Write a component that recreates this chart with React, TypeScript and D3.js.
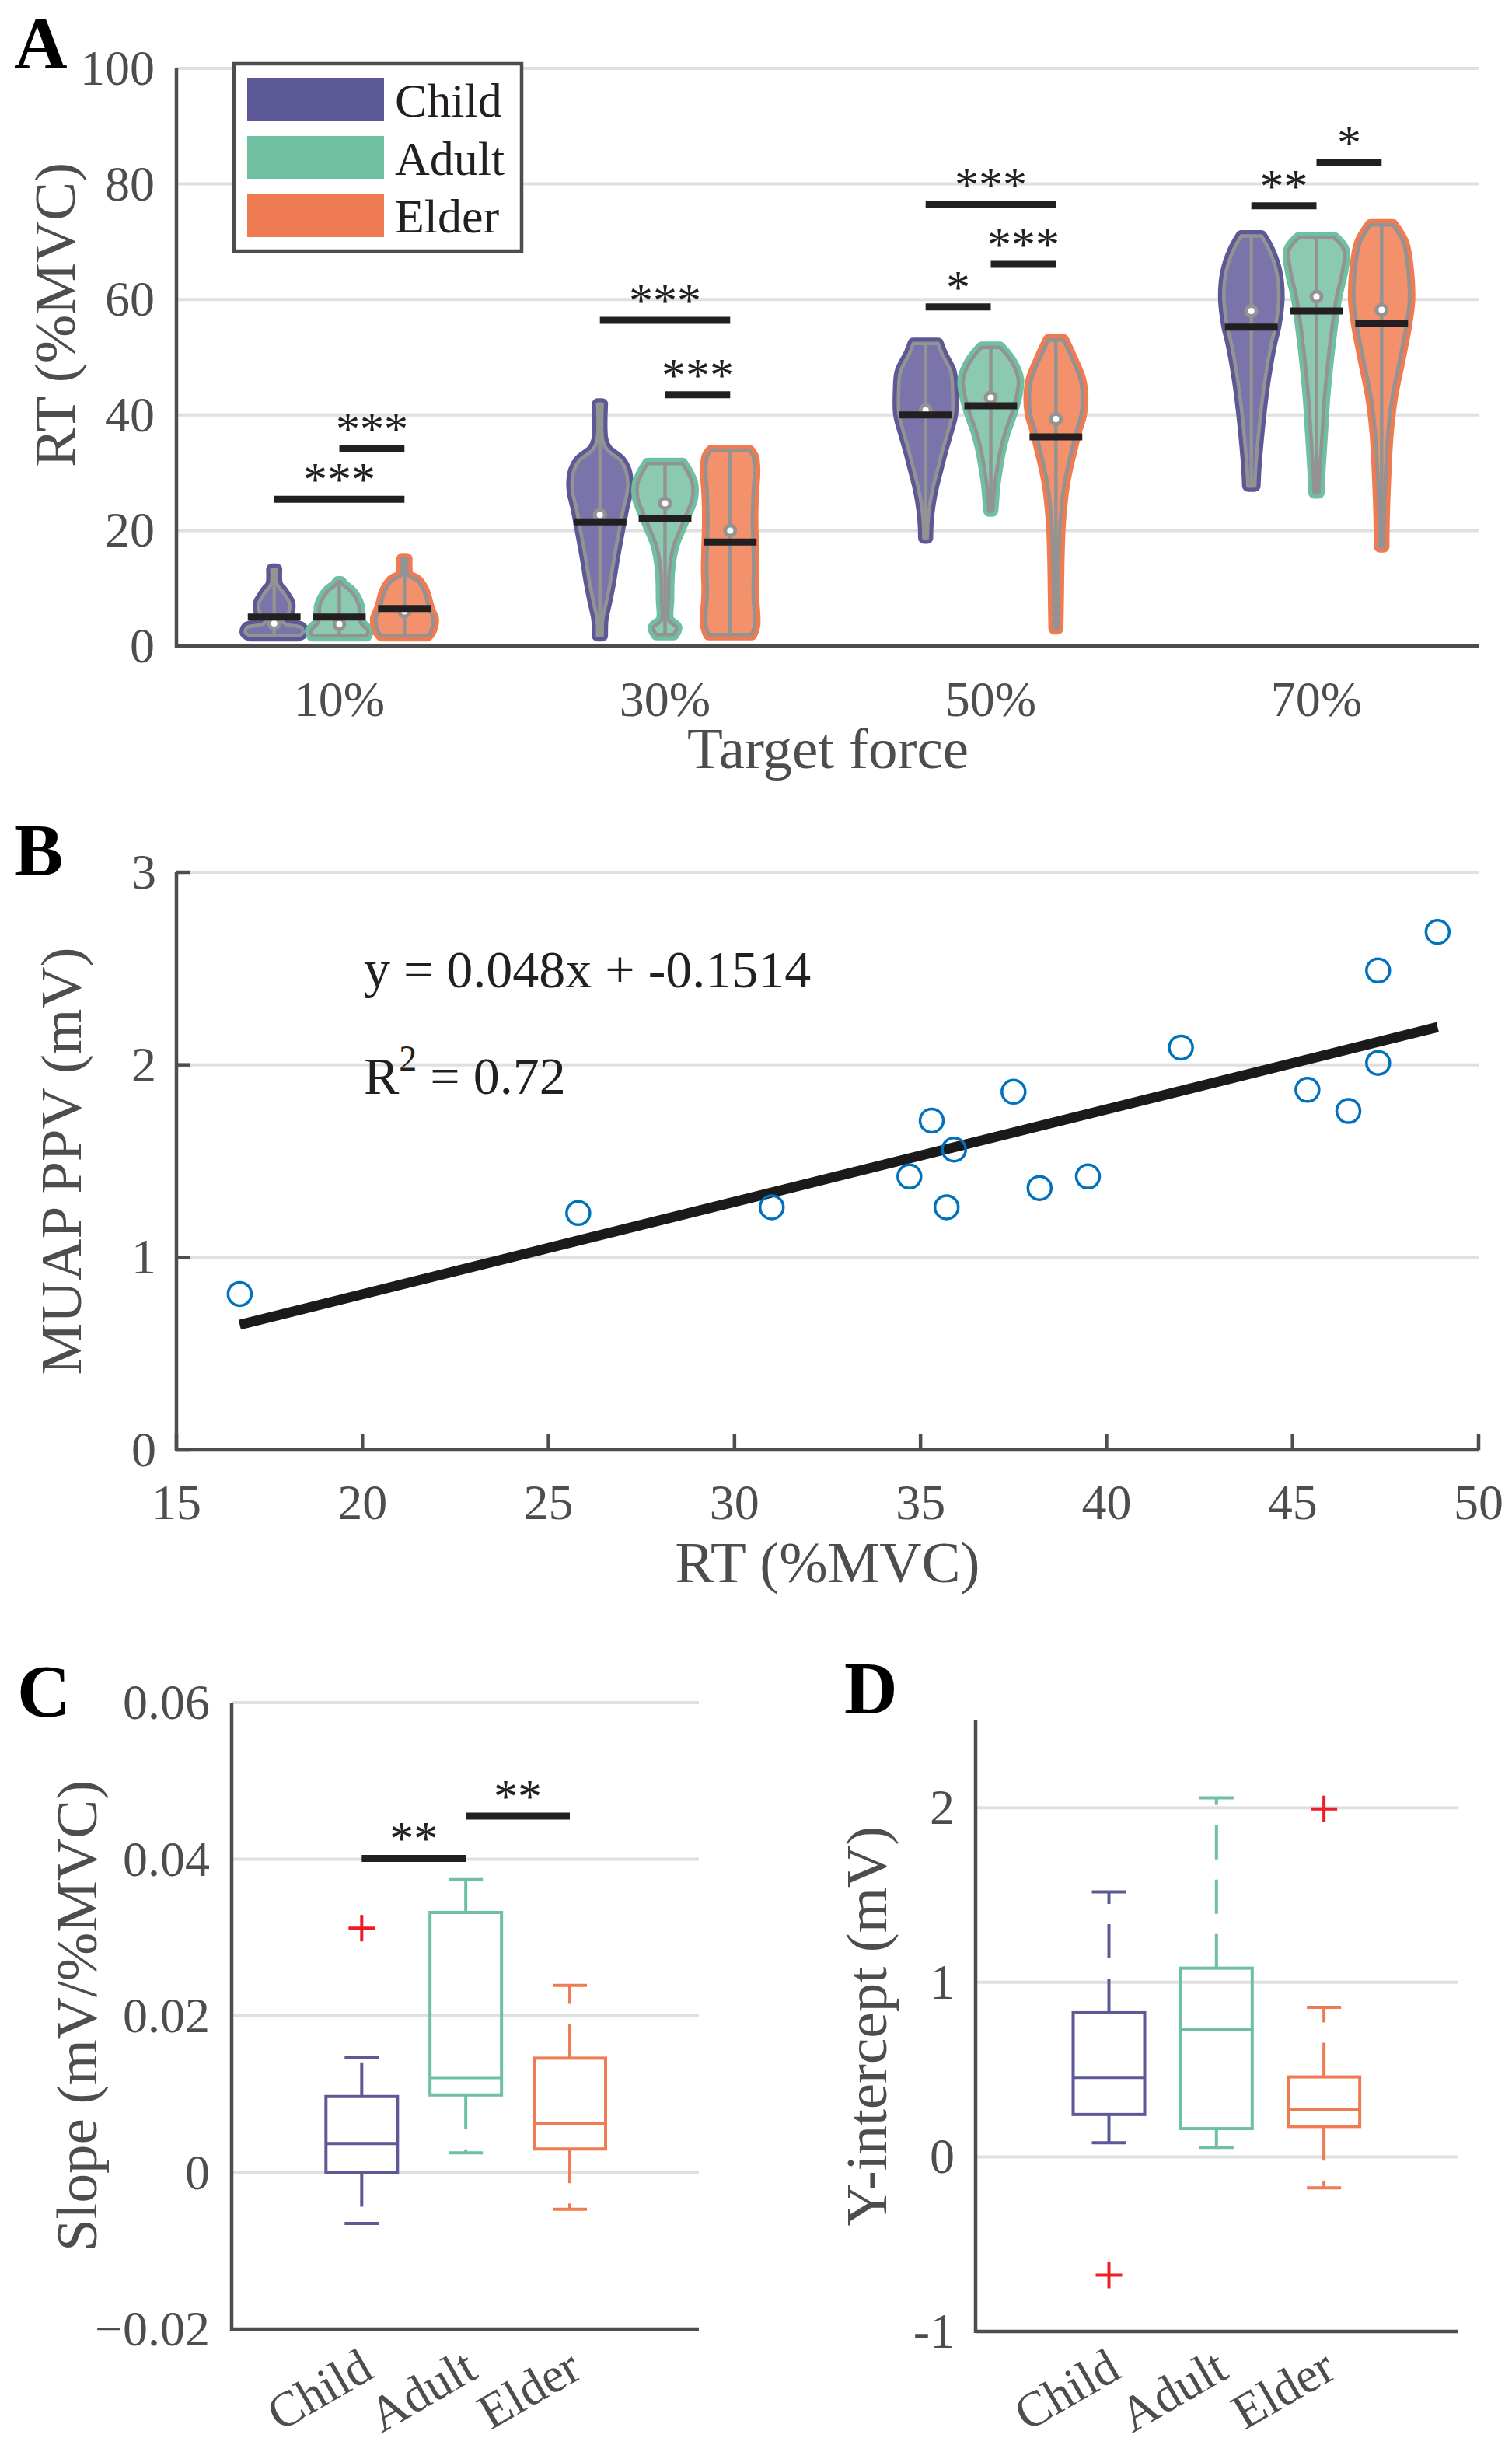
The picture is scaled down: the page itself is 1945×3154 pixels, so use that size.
import { useEffect, useRef } from 'react';
import * as d3 from 'd3';

const W = 1945, H = 3154;
const FONT = "'Liberation Serif', 'Times New Roman', serif";
const INK = '#231f20';
const AXIS = '#4d4d4d';
const GRID = '#e0e0e2';
const VGRAY = '#939393';

const groups = ['Child', 'Adult', 'Elder'];
const groupColors = ['#5d5896', '#6fbfa1', '#ee7b51'];
const groupFills = ['#7b74ab', '#8bcab1', '#f2916b'];

// ---- Panel A: violin profiles, [RT value, relative half-width], bottom -> top
const forces = ['10%', '30%', '50%', '70%'];
const child10: [number, number][] = [[1.8, 0.85], [2.3, 1.0], [3.2, 0.95], [3.8, 0.4], [4.4, 0.3], [5.2, 0.45], [6.2, 0.53], [7.5, 0.53], [8.5, 0.42], [9.4, 0.3], [10.5, 0.12], [11.3, 0.08], [13.3, 0.08]];
const adult10: [number, number][] = [[1.8, 0.95], [2.6, 1.0], [3.4, 0.85], [4.2, 0.72], [5.5, 0.7], [7.0, 0.68], [8.5, 0.55], [9.5, 0.4], [10.5, 0.15], [11.1, 0.05]];
const elder10: [number, number][] = [[1.8, 0.8], [2.4, 0.9], [3.5, 0.98], [4.7, 1.0], [6.0, 0.9], [7.5, 0.8], [9.0, 0.72], [10.3, 0.6], [11.3, 0.45], [12.3, 0.12], [13.5, 0.08], [15.1, 0.08]];
const child30: [number, number][] = [[1.8, 0.08], [4.7, 0.1], [7.5, 0.22], [10.7, 0.35], [15.3, 0.5], [19.9, 0.67], [23.8, 0.82], [26.6, 0.95], [28.4, 0.97], [30.5, 0.9], [32.1, 0.72], [34.0, 0.25], [35.6, 0.1], [41.9, 0.08]];
const adult30: [number, number][] = [[2.0, 0.3], [3.2, 0.4], [4.5, 0.12], [8.0, 0.12], [13.1, 0.15], [17.4, 0.3], [20.5, 0.55], [22.6, 0.72], [25.6, 0.95], [28.2, 0.95], [30.4, 0.75], [31.6, 0.6]];
const elder30: [number, number][] = [[2.0, 0.75], [3.6, 0.85], [9.3, 0.8], [13.5, 0.82], [17.4, 0.8], [22.0, 0.78], [26.2, 0.8], [30.4, 0.85], [32.8, 0.8], [33.8, 0.67]];
const child50: [number, number][] = [[18.7, 0.06], [21.5, 0.08], [24.6, 0.15], [27.7, 0.27], [30.8, 0.43], [33.9, 0.59], [37.0, 0.77], [40.1, 0.93], [44.4, 0.94], [47.5, 0.88], [50.6, 0.57], [52.4, 0.43]];
const adult50: [number, number][] = [[23.4, 0.06], [24.5, 0.08], [27.6, 0.13], [30.7, 0.22], [33.8, 0.33], [36.9, 0.49], [40.0, 0.71], [43.1, 0.89], [46.2, 0.96], [49.3, 0.71], [51.7, 0.32]];
const elder50: [number, number][] = [[3.0, 0.06], [9.1, 0.08], [15.3, 0.1], [21.5, 0.15], [27.7, 0.28], [30.8, 0.4], [33.9, 0.55], [37.0, 0.7], [40.0, 0.88], [43.1, 0.93], [46.2, 0.85], [49.9, 0.55], [53.0, 0.26]];
const child70: [number, number][] = [[27.7, 0.12], [30.8, 0.15], [33.9, 0.2], [40.0, 0.32], [46.2, 0.48], [52.4, 0.7], [55.5, 0.85], [60.5, 0.96], [64.8, 0.88], [68.5, 0.63], [71.0, 0.35]];
const adult70: [number, number][] = [[26.5, 0.08], [30.8, 0.12], [36.9, 0.2], [43.1, 0.28], [49.3, 0.4], [55.5, 0.55], [60.5, 0.7], [64.8, 0.9], [68.5, 0.96], [70.7, 0.61]];
const elder70: [number, number][] = [[17.2, 0.07], [21.5, 0.08], [27.7, 0.12], [36.9, 0.22], [43.1, 0.37], [49.3, 0.62], [55.5, 0.86], [59.9, 0.97], [64.8, 0.93], [69.8, 0.76], [72.9, 0.39]];

const childMedian = [3.9, 22.7, 40.8, 58.0];
const adultMedian = [3.8, 24.7, 43.0, 60.5];
const elderMedian = [6.0, 20.0, 39.3, 58.2];
const childMean = [5.0, 21.5, 40.0, 55.2];
const adultMean = [5.0, 22.0, 41.6, 58.0];
const elderMean = [6.5, 18.0, 36.2, 55.9];

// [force index, group a, group b, bar height, stars]
const sigA: [number, number, number, number, string][] = [
  [0, 1, 2, 34.2, '***'], [0, 0, 2, 25.4, '***'],
  [1, 0, 2, 56.4, '***'], [1, 1, 2, 43.5, '***'],
  [2, 0, 2, 76.4, '***'], [2, 1, 2, 66.1, '***'], [2, 0, 1, 58.7, '*'],
  [3, 0, 1, 76.2, '**'], [3, 1, 2, 83.7, '*'],
];
const ticksA = [0, 20, 40, 60, 80, 100];

// ---- Panel B
const rtValues = [16.7, 25.8, 31.0, 34.7, 35.3, 35.9, 35.7, 37.5, 38.2, 39.5, 42.0, 45.4, 46.5, 47.3, 47.3, 48.9];
const ppvValues = [0.81, 1.23, 1.26, 1.42, 1.71, 1.56, 1.26, 1.86, 1.36, 1.42, 2.09, 1.87, 1.76, 2.49, 2.01, 2.69];
const fitSlope = 0.048, fitIntercept = -0.1514;
const ticksBx = [15, 20, 25, 30, 35, 40, 45, 50];
const ticksBy = [0, 1, 2, 3];

// ---- Panel C (slope) box stats
const slopeLow = [-0.0065, 0.0025, -0.0047];
const slopeQ1 = [0.0, 0.0099, 0.0030];
const slopeMed = [0.0037, 0.0121, 0.0063];
const slopeQ3 = [0.0097, 0.0332, 0.0146];
const slopeHigh = [0.0147, 0.0374, 0.0239];
const slopeOutliers: [number, number][] = [[0, 0.0312]];
const sigC: [number, number, number, string][] = [[0, 1, 0.0401, '**'], [1, 2, 0.0455, '**']];
const ticksC = [-0.02, 0, 0.02, 0.04, 0.06];
const tickLabelsC = ['\u22120.02', '0', '0.02', '0.04', '0.06'];

// ---- Panel D (y-intercept) box stats
const interLow = [0.081, 0.054, -0.177];
const interQ1 = [0.243, 0.162, 0.174];
const interMed = [0.455, 0.731, 0.27];
const interQ3 = [0.826, 1.081, 0.458];
const interHigh = [1.518, 2.057, 0.857];
const interOutliers: [number, number][] = [[0, -0.677], [2, 1.994]];
const ticksD = [-1, 0, 1, 2];
const tickLabelsD = ['-1', '0', '1', '2'];

type Sel = d3.Selection<SVGGElement, unknown, null, undefined>;

function txt(g: Sel, x: number, y: number, s: string, size: number,
  o: { anchor?: string; fill?: string; weight?: string; rot?: number } = {}) {
  const t = g.append('text')
    .attr('x', 0).attr('y', 0)
    .attr('transform', `translate(${x},${y})` + (o.rot ? ` rotate(${o.rot})` : ''))
    .attr('font-family', FONT).attr('font-size', size)
    .attr('text-anchor', o.anchor || 'start')
    .attr('fill', o.fill || AXIS)
    .attr('font-weight', o.weight || 'normal')
    .text(s);
  return t;
}

function line(g: Sel, x1: number, y1: number, x2: number, y2: number, stroke: string, w: number) {
  return g.append('line').attr('x1', x1).attr('y1', y1).attr('x2', x2).attr('y2', y2)
    .attr('stroke', stroke).attr('stroke-width', w);
}

function drawA(g: Sel) {
  const x = d3.scaleLinear().domain([0.5, 4.5]).range([227, 1903]);
  const y = d3.scaleLinear().domain([0, 100]).range([831, 88]);
  const offset = 0.2, half = 0.088, meanHalf = 0.081;

  ticksA.filter(v => v > 0).forEach(v => line(g, x(0.5), y(v), x(4.5), y(v), GRID, 4));

  const profiles = [[child10, adult10, elder10], [child30, adult30, elder30], [child50, adult50, elder50], [child70, adult70, elder70]];
  const medians = [childMedian, adultMedian, elderMedian];
  const means = [childMean, adultMean, elderMean];

  profiles.forEach((row, fi) => {
    row.forEach((prof, gi) => {
      const c = fi + 1 + (gi - 1) * offset;
      const area = d3.area<[number, number]>()
        .y(d => y(d[0]))
        .x0(d => x(c - d[1] * half))
        .x1(d => x(c + d[1] * half))
        .curve(d3.curveCatmullRom.alpha(0.5));
      // raw-data halo
      g.append('path').attr('d', area(prof)).attr('fill', groupColors[gi])
        .attr('stroke', groupColors[gi]).attr('stroke-width', 15).attr('stroke-linejoin', 'round');
      g.append('path').attr('d', area(prof)).attr('fill', groupFills[gi])
        .attr('stroke', VGRAY).attr('stroke-width', 4.5).attr('stroke-linejoin', 'round');
      line(g, x(c), y(prof[0][0]), x(c), y(prof[prof.length - 1][0]), VGRAY, 4.5);
      g.append('circle').attr('cx', x(c)).attr('cy', y(medians[gi][fi])).attr('r', 6.5)
        .attr('fill', '#fff').attr('stroke', VGRAY).attr('stroke-width', 5);
    });
  });
  profiles.forEach((row, fi) => {
    row.forEach((_, gi) => {
      const c = fi + 1 + (gi - 1) * offset;
      line(g, x(c - meanHalf), y(means[gi][fi]), x(c + meanHalf), y(means[gi][fi]), INK, 9);
    });
  });

  sigA.forEach(([fi, a, b, v, s]) => {
    const ca = fi + 1 + (a - 1) * offset, cb = fi + 1 + (b - 1) * offset;
    line(g, x(ca), y(v), x(cb), y(v), INK, 9);
    txt(g, (x(ca) + x(cb)) / 2, y(v) - 5, s, 62, { anchor: 'middle', fill: INK });
  });

  line(g, x(0.5), y(0), x(4.5), y(0), AXIS, 4.5);
  line(g, x(0.5), y(0) + 2, x(0.5), y(100), AXIS, 4.5);
  ticksA.forEach(v => txt(g, 199, y(v) + 21, String(v), 64, { anchor: 'end' }));
  forces.forEach((f, i) => txt(g, x(i + 1), 921, f, 64, { anchor: 'middle' }));
  txt(g, (x(0.5) + x(4.5)) / 2, 988, 'Target force', 75, { anchor: 'middle' });
  txt(g, 96, 405, 'RT (%MVC)', 75, { anchor: 'middle', rot: -90 });
  txt(g, 18, 88, 'A', 95, { fill: '#000', weight: 'bold' });

  // legend
  g.append('rect').attr('x', 301).attr('y', 82).attr('width', 370).attr('height', 241)
    .attr('fill', '#fff').attr('stroke', AXIS).attr('stroke-width', 4.5);
  groups.forEach((name, i) => {
    g.append('rect').attr('x', 318).attr('y', 100 + i * 75).attr('width', 176).attr('height', 55)
      .attr('fill', groupColors[i]);
    txt(g, 508, 150 + i * 74.5, name, 62, { fill: INK });
  });
}

function drawB(g: Sel) {
  const x = d3.scaleLinear().domain([15, 50]).range([227, 1902]);
  const y = d3.scaleLinear().domain([0, 3]).range([1865, 1122]);

  ticksBy.filter(v => v > 0).forEach(v => line(g, x(15), y(v), x(50), y(v), GRID, 4));

  const xs = d3.extent(rtValues) as [number, number];
  const fit = d3.line<number>().x(d => x(d)).y(d => y(fitSlope * d + fitIntercept));
  g.append('path').attr('d', fit(xs)).attr('stroke', '#1a1a1a').attr('stroke-width', 13).attr('fill', 'none');

  rtValues.forEach((v, i) => {
    g.append('circle').attr('cx', x(v)).attr('cy', y(ppvValues[i])).attr('r', 15)
      .attr('fill', 'none').attr('stroke', '#0072bd').attr('stroke-width', 3.5);
  });

  line(g, x(15), y(0), x(50), y(0), AXIS, 4.5);
  line(g, x(15), y(0) + 2, x(15), y(3), AXIS, 4.5);
  ticksBx.forEach(v => {
    line(g, x(v), y(0), x(v), y(0) - 20, AXIS, 4.5);
    txt(g, x(v), 1954, String(v), 64, { anchor: 'middle' });
  });
  ticksBy.forEach(v => {
    line(g, x(15), y(v), x(15) + 18, y(v), AXIS, 4.5);
    txt(g, 201, y(v) + 21, String(v), 64, { anchor: 'end' });
  });
  txt(g, (x(15) + x(50)) / 2, 2035, 'RT (%MVC)', 75, { anchor: 'middle' });
  txt(g, 104, (y(0) + y(3)) / 2, 'MUAP PPV (mV)', 75, { anchor: 'middle', rot: -90 });
  txt(g, 18, 1126, 'B', 95, { fill: '#000', weight: 'bold' });

  txt(g, 468, 1270, 'y = 0.048x + -0.1514', 68, { fill: INK });
  const r2 = txt(g, 468, 1407, '', 68, { fill: INK });
  r2.append('tspan').text('R');
  r2.append('tspan').attr('dy', -30).attr('font-size', 46).text('2');
  r2.append('tspan').attr('dy', 30).text(' = 0.72');
}

function drawBox(g: Sel, x: d3.ScaleLinear<number, number>, y: d3.ScaleLinear<number, number>,
  low: number[], q1: number[], med: number[], q3: number[], high: number[], outliers: [number, number][]) {
  const bh = 46, ch = 22;
  groups.forEach((_, i) => {
    const cx = x(i + 1), col = groupColors[i];
    line(g, cx, y(q3[i]), cx, y(high[i]), col, 4).attr('stroke-dasharray', '44,26');
    line(g, cx, y(q1[i]), cx, y(low[i]), col, 4).attr('stroke-dasharray', '44,26');
    line(g, cx - ch, y(high[i]), cx + ch, y(high[i]), col, 4);
    line(g, cx - ch, y(low[i]), cx + ch, y(low[i]), col, 4);
    g.append('rect').attr('x', cx - bh).attr('y', y(q3[i])).attr('width', bh * 2)
      .attr('height', y(q1[i]) - y(q3[i])).attr('fill', 'none').attr('stroke', col).attr('stroke-width', 4);
    line(g, cx - bh, y(med[i]), cx + bh, y(med[i]), col, 4);
  });
  outliers.forEach(([i, v]) => {
    const cx = x(i + 1), cy = y(v);
    line(g, cx - 17, cy, cx + 17, cy, '#ee1c25', 4);
    line(g, cx, cy - 17, cx, cy + 17, '#ee1c25', 4);
  });
}

function drawC(g: Sel) {
  const x = d3.scaleLinear().domain([-0.25, 4.24]).range([298, 899]);
  const y = d3.scaleLinear().domain([-0.02, 0.06]).range([2996, 2190]);
  ticksC.filter(v => v > -0.02).forEach(v => line(g, x(-0.25), y(v), x(4.24), y(v), GRID, 4));
  drawBox(g, x, y, slopeLow, slopeQ1, slopeMed, slopeQ3, slopeHigh, slopeOutliers);
  sigC.forEach(([a, b, v, s]) => {
    line(g, x(a + 1), y(v), x(b + 1), y(v), INK, 9);
    txt(g, (x(a + 1) + x(b + 1)) / 2, y(v) - 5, s, 62, { anchor: 'middle', fill: INK });
  });
  line(g, x(-0.25), y(-0.02), x(4.24), y(-0.02), AXIS, 4.5);
  line(g, x(-0.25), y(-0.02) + 2, x(-0.25), y(0.06), AXIS, 4.5);
  ticksC.forEach((v, i) => txt(g, 270, y(v) + 21, tickLabelsC[i], 64, { anchor: 'end' }));
  groups.forEach((name, i) => txt(g, x(i + 1) + 18, 3057, name, 64, { anchor: 'end', rot: -30 }));
  txt(g, 124, (y(-0.02) + y(0.06)) / 2, 'Slope (mV/%MVC)', 75, { anchor: 'middle', rot: -90 });
  txt(g, 22, 2208, 'C', 95, { fill: '#000', weight: 'bold' });
}

function drawD(g: Sel) {
  const x = d3.scaleLinear().domain([-0.24, 4.25]).range([1255, 1876]);
  const y = d3.scaleLinear().domain([-1, 2.5]).range([2999, 2213]);
  ticksD.filter(v => v > -1).forEach(v => line(g, x(-0.24), y(v), x(4.25), y(v), GRID, 4));
  drawBox(g, x, y, interLow, interQ1, interMed, interQ3, interHigh, interOutliers);
  line(g, x(-0.24), y(-1), x(4.25), y(-1), AXIS, 4.5);
  line(g, x(-0.24), y(-1) + 2, x(-0.24), y(2.5), AXIS, 4.5);
  ticksD.forEach((v, i) => txt(g, 1228, y(v) + 21, tickLabelsD[i], 64, { anchor: 'end' }));
  groups.forEach((name, i) => txt(g, x(i + 1) + 18, 3057, name, 64, { anchor: 'end', rot: -30 }));
  txt(g, 1140, (y(-1) + y(2.5)) / 2, 'Y-intercept (mV)', 75, { anchor: 'middle', rot: -90 });
  txt(g, 1086, 2204, 'D', 95, { fill: '#000', weight: 'bold' });
}

export default function App() {
  const svgRef = useRef<SVGSVGElement>(null);

  useEffect(() => {
    const svg = d3.select(svgRef.current);
    svg.selectAll('*').remove();
    svg.append('rect').attr('width', W).attr('height', H).attr('fill', '#fff');
    const g = svg.append('g') as unknown as Sel;
    drawA(g);
    drawB(g);
    drawC(g);
    drawD(g);
  }, []);

  return (
    <svg ref={svgRef} width={W} height={H}
      style={{ position: 'absolute', left: 0, top: 0, display: 'block' }} />
  );
}
